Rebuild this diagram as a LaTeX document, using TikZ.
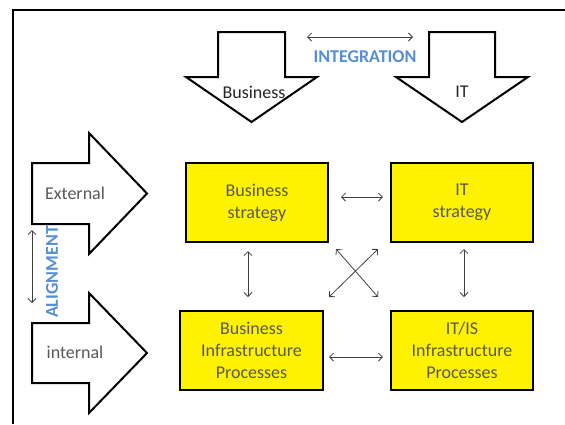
\documentclass[tikz,border=0pt]{standalone}
\usepackage{fontspec}
\setmainfont{Carlito}
\usepackage{tikz}
\usetikzlibrary{arrows.meta}
\definecolor{txtgray}{RGB}{89,89,89}
\definecolor{hiblue}{RGB}{85,142,213}
\tikzstyle{box} = [draw, fill=yellow, line width=2pt, rectangle,
    minimum width=142pt, minimum height=79pt, align=center, text=txtgray]
\tikzstyle{bigarrow} = [draw, fill=white, line width=2pt, line join=miter]
\tikzstyle{arrowtext} = [text=txtgray]
\tikzstyle{keyword} = [text=hiblue, font=\fontsize{18}{22}\selectfont\bfseries]
\tikzstyle{link} = [<->, draw=black!75, line width=0.8pt]

\begin{document}
\begin{tikzpicture}[x=1pt, y=-1pt, node distance=2cm, >={Straight Barb[length=4pt,width=8pt]},
    font=\fontsize{18}{22}\selectfont]
    \useasboundingbox (0,0) rectangle (565,424);
    \draw [line width=2pt] (565,10) -- (12.5,10) -- (12.5,424);
    % block arrows
    \draw [bigarrow] (218,32) -- (285,32) -- (285,77) -- (317,77) -- (251.5,122)
        -- (186,77) -- (218,77) -- cycle;
    \draw [bigarrow] (429,32) -- (495,32) -- (495,77) -- (528,77) -- (462,122)
        -- (396,77) -- (429,77) -- cycle;
    \draw [bigarrow] (32,163) -- (89,163) -- (89,133) -- (147,193.5) -- (89,254)
        -- (89,224) -- (32,224) -- cycle;
    \draw [bigarrow] (32,323) -- (89,323) -- (89,293) -- (147,353) -- (89,413)
        -- (89,383) -- (32,383) -- cycle;
    \node [text=black!85] (business) at (254,92) {Business};
    \node [text=black!85] (it) at (462,92) {IT};
    \node [arrowtext] (external) at (75,193) {External};
    \node [arrowtext] (internal) at (75,352) {internal};
    \node [keyword] (integration) at (365,57) {INTEGRATION};
    \node [keyword, rotate=90] (alignment) at (52,272) {ALIGNMENT};
    \coordinate (intL) at (307,37);
    \coordinate (intR) at (413,37);
    \coordinate (alnT) at (32,230);
    \coordinate (alnB) at (32,303);
    % strategy and infrastructure boxes
    \node [box] (bstrat) at (257,202.5) {Business\\strategy};
    \node [box, right of=bstrat, node distance=205pt] (itstrat) {IT\\strategy};
    \node [box, minimum width=143pt, below of=bstrat, node distance=148pt, xshift=-5.5pt] (binfra)
        {Business\\Infrastructure\\Processes};
    \node [box, below of=itstrat, node distance=148pt] (itinfra)
        {IT/IS\\Infrastructure\\Processes};
    \draw [link] (intL) -- (intR);
    \draw [link] (alnT) -- (alnB);
    \draw [link] ([xshift=12pt,yshift=5.5pt]bstrat.east) -- ([xshift=-7pt,yshift=5.5pt]itstrat.west);
    \draw [link] ([xshift=5pt,yshift=-6.5pt]binfra.east) -- ([xshift=-7pt,yshift=-6.5pt]itinfra.west);
    \draw [link] ([xshift=-9pt,yshift=-8pt]bstrat.south) -- ([xshift=-3.5pt,yshift=13pt]binfra.north);
    \draw [link] ([xshift=2pt,yshift=-6pt]itstrat.south) -- ([xshift=2pt,yshift=13pt]itinfra.north);
    \draw [link] ([xshift=7pt,yshift=-6pt]bstrat.south east) -- ([xshift=-12pt,yshift=13pt]itinfra.north west);
    \draw [link] ([xshift=-12pt,yshift=-6pt]itstrat.south west) -- ([xshift=5pt,yshift=13pt]binfra.north east);
\end{tikzpicture}
\end{document}
